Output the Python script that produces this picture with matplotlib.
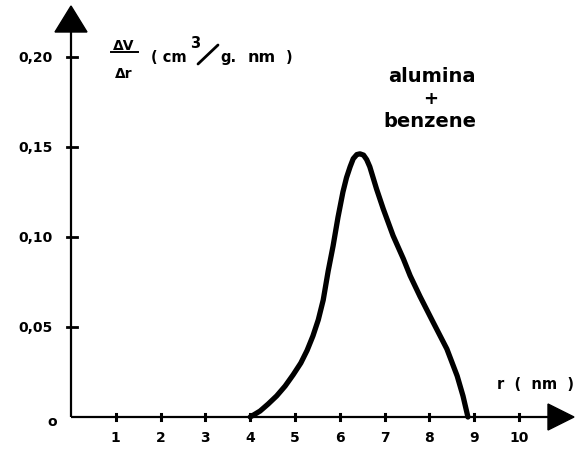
import matplotlib
matplotlib.use("Agg")
import matplotlib.pyplot as plt
from matplotlib.patches import Polygon

# data
r_nm = [4.0, 4.22, 4.40, 4.59, 4.78, 4.96, 5.13, 5.27, 5.40, 5.52, 5.63, 5.74, 5.85,
        5.96, 6.07, 6.15, 6.23, 6.30, 6.38, 6.45, 6.53, 6.60, 6.67, 6.82, 6.97, 7.19,
        7.42, 7.57, 7.79, 8.08, 8.39, 8.62, 8.75, 8.86]
dv_dr = [0.0, 0.0033, 0.0072, 0.0117, 0.0172, 0.0235, 0.030, 0.037, 0.045, 0.054,
         0.065, 0.081, 0.095, 0.111, 0.125, 0.133, 0.139, 0.1435, 0.1458, 0.1462,
         0.1455, 0.1430, 0.139, 0.1267, 0.1156, 0.1007, 0.0878, 0.0785, 0.067,
         0.0528, 0.0378, 0.0228, 0.0117, 0.0]
x_ticks = [1, 2, 3, 4, 5, 6, 7, 8, 9, 10]
x_tick_labels = ["1", "2", "3", "4", "5", "6", "7", "8", "9", "10"]
y_ticks = [0.05, 0.10, 0.15, 0.20]
y_tick_labels = ["0,05", "0,10", "0,15", "0,20"]

W, H = 578, 452
fig = plt.figure(figsize=(W / 100, H / 100), dpi=100)
ax = fig.add_axes([0, 0, 1, 1])
x0px, xs = 71.0, 44.8
y0px, ys = 418.0, 1800.0
ax.set_xlim(-x0px / xs, (W - x0px) / xs)
ax.set_ylim(-(H - y0px) / ys, y0px / ys)
ax.axis("off")

FONT = "DejaVu Sans"
lw_axis = 1.6


def px2dx(p):
    return p / xs


def px2dy(p):
    return p / ys


def tx(p):
    return (p - x0px) / xs


def ty(p):
    return (y0px - p) / ys


# axes lines
ax.plot([0, tx(552)], [0, 0], color="black", lw=lw_axis, solid_capstyle="butt", zorder=2)
ax.plot([0, 0], [0, ty(28)], color="black", lw=lw_axis, solid_capstyle="butt", zorder=2)

# arrowheads
tip_x = tx(574)
xa = Polygon([[tip_x, 0], [tip_x - px2dx(26), px2dy(13)], [tip_x - px2dx(26), -px2dy(13)]],
             closed=True, color="black", zorder=3)
ax.add_patch(xa)
tip_y = ty(7)
ya = Polygon([[0, tip_y], [-px2dx(16), tip_y - px2dy(26)], [px2dx(16), tip_y - px2dy(26)]],
             closed=True, color="black", zorder=3)
ax.add_patch(ya)

# ticks
for xt, lab in zip(x_ticks, x_tick_labels):
    ax.plot([xt, xt], [-px2dy(3), px2dy(3)], color="black", lw=2.2, zorder=2)
    ax.text(xt, ty(442), lab, ha="center", va="baseline", fontsize=10,
            fontweight="bold", family=FONT)
for yt, lab in zip(y_ticks, y_tick_labels):
    ax.plot([-px2dx(4), px2dx(6)], [yt, yt], color="black", lw=2.0, zorder=2)
    ax.text(-px2dx(18), yt, lab, ha="right", va="center", fontsize=10,
            fontweight="bold", family=FONT)
ax.text(tx(52), ty(422), "o", ha="center", va="center", fontsize=10,
        fontweight="bold", family=FONT)

# curve
ax.plot(r_nm, dv_dr, color="black", lw=3.8, solid_joinstyle="round",
        solid_capstyle="round", zorder=4)

# axis labels
ax.text(tx(124), ty(50), "ΔV", ha="center", va="baseline", fontsize=10,
        fontweight="bold", family=FONT)
ax.plot([tx(111), tx(138)], [ty(53), ty(53)], color="black", lw=1.4)
ax.text(tx(124), ty(78), "Δr", ha="center", va="baseline", fontsize=10,
        fontweight="bold", family=FONT)
ax.text(tx(151), ty(62), "( cm", ha="left", va="baseline", fontsize=10.5,
        fontweight="bold", family=FONT)
ax.text(tx(190), ty(48), "3", ha="left", va="baseline", fontsize=10.5,
        fontweight="bold", family=FONT)
ax.plot([tx(198), tx(218)], [ty(65), ty(46)], color="black", lw=2.0,
        solid_capstyle="round")
ax.text(tx(220), ty(62), "g.", ha="left", va="baseline", fontsize=10.5,
        fontweight="bold", family=FONT)
ax.text(tx(248), ty(62), "nm", ha="left", va="baseline", fontsize=11.5,
        fontweight="bold", family=FONT)
ax.text(tx(292), ty(62), ")", ha="right", va="baseline", fontsize=10.5,
        fontweight="bold", family=FONT)

ax.text(tx(432), ty(82), "alumina", ha="center", va="baseline", fontsize=14,
        fontweight="bold", family=FONT)
ax.text(tx(431), ty(104), "+", ha="center", va="baseline", fontsize=13,
        fontweight="bold", family=FONT)
ax.text(tx(430), ty(127), "benzene", ha="center", va="baseline", fontsize=14,
        fontweight="bold", family=FONT)

ax.text(tx(497), ty(389), "r  (  nm  )", ha="left", va="baseline", fontsize=10.5,
        fontweight="bold", family=FONT)

fig.savefig("out.png", dpi=100)
